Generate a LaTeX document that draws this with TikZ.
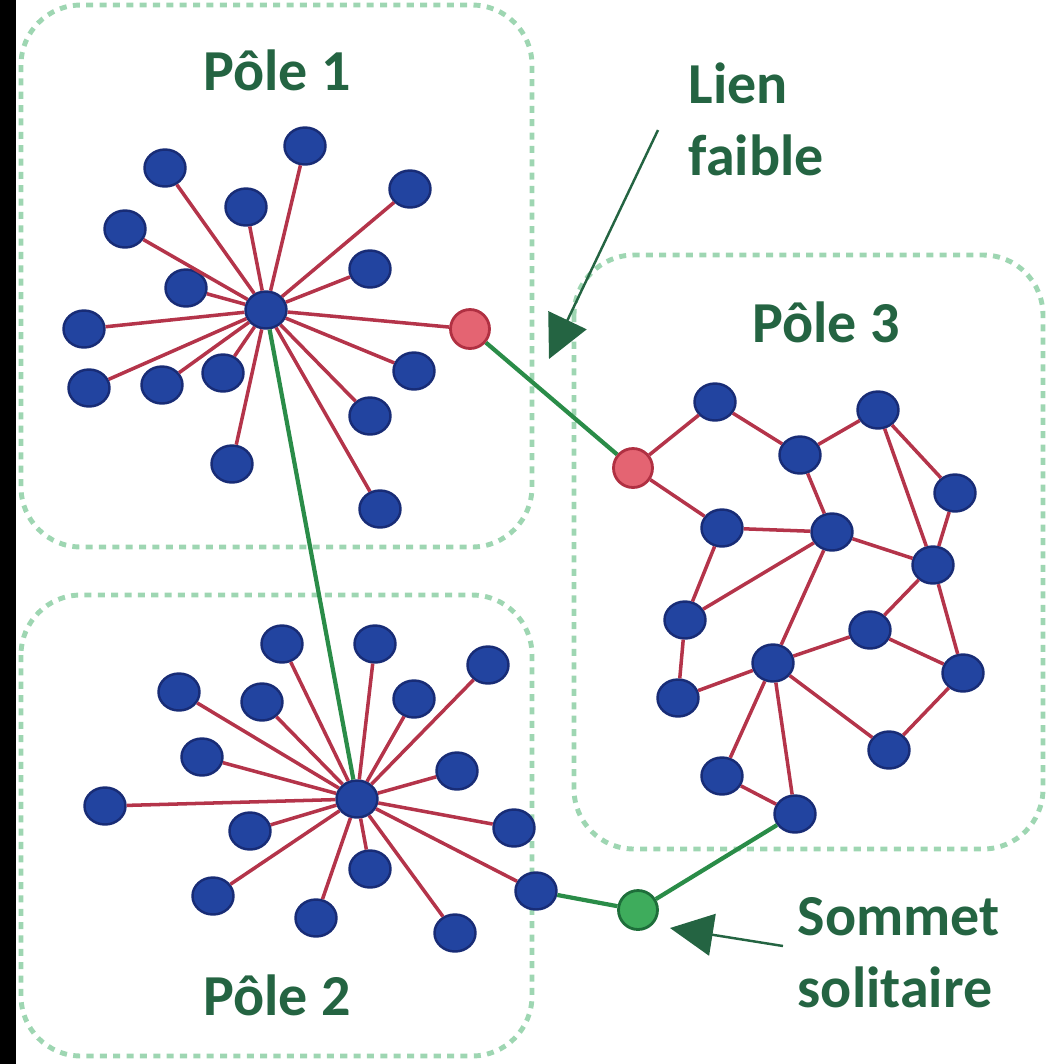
\documentclass[tikz,border=0pt]{standalone}
\usepackage{fontspec}
\setmainfont{Carlito}
\usetikzlibrary{shapes.geometric,arrows.meta}

\definecolor{blueball}{RGB}{34,68,160}
\definecolor{bluedark}{RGB}{24,44,118}
\definecolor{edgered}{RGB}{180,52,74}
\definecolor{redball}{RGB}{228,100,114}
\definecolor{reddark}{RGB}{176,48,66}
\definecolor{linkgreen}{RGB}{42,140,72}
\definecolor{greenball}{RGB}{62,172,92}
\definecolor{greendark}{RGB}{30,110,58}
\definecolor{boxgreen}{RGB}{158,214,178}
\definecolor{textgreen}{RGB}{36,100,66}

\tikzset{
  vertex/.style={ellipse, draw=bluedark, fill=blueball, line width=0.7pt,
    minimum width=0.41cm, minimum height=0.37cm, inner sep=0pt},
  bridge/.style={circle, draw=reddark, fill=redball, line width=0.8pt,
    minimum size=0.39cm, inner sep=0pt},
  lonely/.style={circle, draw=greendark, fill=greenball, line width=0.8pt,
    minimum size=0.39cm, inner sep=0pt},
  tie/.style={edgered, line width=1pt},
  weak/.style={linkgreen, line width=1.2pt},
  pole/.style={boxgreen, line width=1.4pt, dash pattern=on 2pt off 1.8pt,
    rounded corners=0.6cm},
  tag/.style={text=textgreen, font=\bfseries\fontsize{16.5}{20.5}\selectfont,
    inner sep=0pt},
  pointer/.style={textgreen, line width=0.7pt,
    -{Triangle[length=0.43cm,width=0.42cm]}}
}

\begin{document}
\begin{tikzpicture}

    \useasboundingbox (0,0) rectangle (10.63,-10.64);
    \fill[black] (0,0) rectangle (0.16,-10.64);

    % Pole boxes
    \draw[pole] (0.21,-0.05) rectangle (5.32,-5.47);
    \draw[pole] (0.21,-5.95) rectangle (5.32,-10.56);
    \draw[pole] (5.74,-2.55) rectangle (10.43,-8.49);
    \node[tag] (t1) at (2.77,-0.70) {Pôle 1};
    \node[tag] (t2) at (2.77,-9.95) {Pôle 2};
    \node[tag] (t3) at (8.26,-3.22) {Pôle 3};

    % Pole 1 (star)
    \node[vertex] (c1) at (2.66,-3.10) {};
    \node[vertex] (p1a) at (1.65,-1.68) {};
    \node[vertex] (p1b) at (3.05,-1.46) {};
    \node[vertex] (p1c) at (4.10,-1.89) {};
    \node[vertex] (p1d) at (1.25,-2.29) {};
    \node[vertex] (p1e) at (2.46,-2.07) {};
    \node[vertex] (p1f) at (3.70,-2.69) {};
    \node[vertex] (p1g) at (1.86,-2.88) {};
    \node[vertex] (p1h) at (0.84,-3.29) {};
    \node[vertex] (p1i) at (0.89,-3.88) {};
    \node[vertex] (p1j) at (1.62,-3.85) {};
    \node[vertex] (p1k) at (2.23,-3.73) {};
    \node[vertex] (p1l) at (4.14,-3.71) {};
    \node[vertex] (p1m) at (3.70,-4.16) {};
    \node[vertex] (p1n) at (2.32,-4.64) {};
    \node[vertex] (p1o) at (3.80,-5.09) {};
    \node[bridge] (r1) at (4.70,-3.29) {};
    \draw[tie] (c1) -- (p1a) (c1) -- (p1b) (c1) -- (p1c) (c1) -- (p1d)
               (c1) -- (p1e) (c1) -- (p1f) (c1) -- (p1g) (c1) -- (p1h)
               (c1) -- (p1i) (c1) -- (p1j) (c1) -- (p1k) (c1) -- (p1l)
               (c1) -- (p1m) (c1) -- (p1n) (c1) -- (p1o) (c1) -- (r1);

    % Pole 2 (star)
    \node[vertex] (c2) at (3.57,-7.99) {};
    \node[vertex] (p2a) at (2.82,-6.44) {};
    \node[vertex] (p2b) at (3.75,-6.44) {};
    \node[vertex] (p2c) at (4.88,-6.65) {};
    \node[vertex] (p2d) at (1.79,-6.92) {};
    \node[vertex] (p2e) at (2.62,-7.02) {};
    \node[vertex] (p2f) at (4.14,-6.99) {};
    \node[vertex] (p2g) at (2.02,-7.57) {};
    \node[vertex] (p2h) at (4.57,-7.71) {};
    \node[vertex] (p2i) at (1.05,-8.06) {};
    \node[vertex] (p2j) at (2.50,-8.31) {};
    \node[vertex] (p2k) at (5.14,-8.28) {};
    \node[vertex] (p2l) at (3.70,-8.69) {};
    \node[vertex] (p2m) at (5.36,-8.91) {};
    \node[vertex] (p2n) at (2.13,-8.96) {};
    \node[vertex] (p2o) at (3.16,-9.18) {};
    \node[vertex] (p2p) at (4.55,-9.33) {};
    \draw[tie] (c2) -- (p2a) (c2) -- (p2b) (c2) -- (p2c) (c2) -- (p2d)
               (c2) -- (p2e) (c2) -- (p2f) (c2) -- (p2g) (c2) -- (p2h)
               (c2) -- (p2i) (c2) -- (p2j) (c2) -- (p2k) (c2) -- (p2l)
               (c2) -- (p2m) (c2) -- (p2n) (c2) -- (p2o) (c2) -- (p2p);

    % Pole 3 (mesh)
    \node[bridge] (r3) at (6.33,-4.68) {};
    \node[vertex] (p3a) at (7.15,-4.02) {};
    \node[vertex] (p3b) at (8.00,-4.55) {};
    \node[vertex] (p3c) at (8.78,-4.10) {};
    \node[vertex] (p3d) at (9.55,-4.93) {};
    \node[vertex] (p3e) at (7.22,-5.28) {};
    \node[vertex] (p3f) at (8.32,-5.32) {};
    \node[vertex] (p3g) at (9.33,-5.65) {};
    \node[vertex] (p3h) at (6.85,-6.20) {};
    \node[vertex] (p3i) at (8.70,-6.30) {};
    \node[vertex] (p3j) at (7.73,-6.63) {};
    \node[vertex] (p3k) at (9.63,-6.73) {};
    \node[vertex] (p3l) at (6.78,-6.98) {};
    \node[vertex] (p3m) at (8.89,-7.50) {};
    \node[vertex] (p3n) at (7.22,-7.76) {};
    \node[vertex] (p3o) at (7.95,-8.14) {};
    \draw[tie] (r3) -- (p3a) (r3) -- (p3e) (p3a) -- (p3b) (p3b) -- (p3c)
               (p3c) -- (p3d) (p3c) -- (p3g) (p3d) -- (p3g) (p3b) -- (p3f)
               (p3e) -- (p3f) (p3f) -- (p3g) (p3e) -- (p3h) (p3h) -- (p3f)
               (p3h) -- (p3l) (p3l) -- (p3j) (p3j) -- (p3f) (p3j) -- (p3i)
               (p3i) -- (p3g) (p3i) -- (p3k) (p3g) -- (p3k) (p3j) -- (p3m)
               (p3m) -- (p3k) (p3j) -- (p3n) (p3j) -- (p3o) (p3n) -- (p3o);

    % Weak links and the lone vertex
    \node[lonely] (s) at (6.38,-9.10) {};
    \draw[weak] (c1) -- (c2);
    \draw[weak] (r1) -- (r3);
    \draw[weak] (p2m) -- (s) -- (p3o);

    % Callouts
    \node[tag, align=left, anchor=north west] (lien) at (6.88,-0.62) {Lien\\faible};
    \coordinate (lien0) at (6.58,-1.30);
    \coordinate (lien1) at (5.49,-3.59);
    \draw[pointer] (lien0) -- (lien1);
    \node[tag, align=left, anchor=north west] (somm) at (7.97,-8.97) {Sommet\\solitaire};
    \coordinate (somm0) at (7.83,-9.46);
    \coordinate (somm1) at (6.70,-9.28);
    \draw[pointer] (somm0) -- (somm1);

\end{tikzpicture}
\end{document}
